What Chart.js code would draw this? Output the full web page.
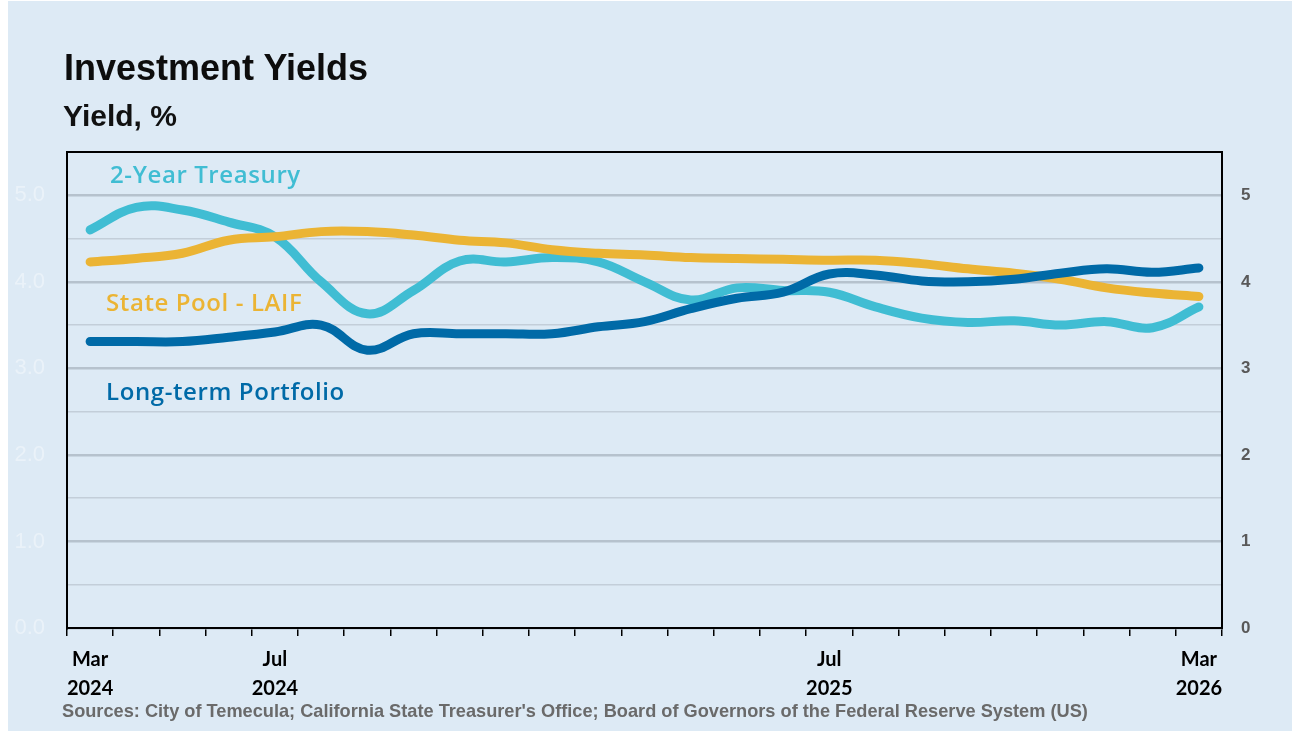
<!DOCTYPE html>
<html>
<head>
<meta charset="utf-8">
<title>Investment Yields</title>
<script src="https://cdn.jsdelivr.net/npm/chart.js@4.4.1/dist/chart.umd.min.js"></script>
<style>
    html, body { margin: 0; padding: 0; background: #ffffff; }
    body { width: 1293px; height: 732px; position: relative; overflow: hidden; }
    #panel { position: absolute; left: 8px; top: 1px; width: 1284px; height: 730px; background: #ddeaf5; }
    #chart { position: absolute; left: 0; top: 0; }
    .txt { position: absolute; white-space: nowrap; font-family: "Liberation Sans", Arial, sans-serif; font-weight: bold; }
    #title { left: 64px; top: 50px; font-size: 36px; line-height: 36px; color: #0d0d0d; }
    #subtitle { left: 63px; top: 101px; font-size: 30px; line-height: 30px; color: #111; }
    .series { font-family: "Open Sans", sans-serif; font-weight: 600; font-size: 24px; line-height: 24px; letter-spacing: 0.6px; }
    #lbl-treasury { left: 110px; top: 162px; color: #40bdd3; }
    #lbl-laif { left: 106px; top: 290px; color: #ebb434; }
    #lbl-portfolio { left: 106px; top: 379px; color: #006aa7; }
    #source { left: 62px; top: 702px; font-size: 18.2px; line-height: 18px; color: #6a6a6a; }
</style>
</head>
<body>
<div id="panel"></div>
<canvas id="chart" width="1293" height="732"></canvas>
<div class="txt" id="title">Investment Yields</div>
<div class="txt" id="subtitle">Yield, %</div>
<div class="txt series" id="lbl-treasury">2-Year Treasury</div>
<div class="txt series" id="lbl-laif">State Pool - LAIF</div>
<div class="txt series" id="lbl-portfolio">Long-term Portfolio</div>
<div class="txt" id="source">Sources: City of Temecula; California State Treasurer's Office; Board of Governors of the Federal Reserve System (US)</div>
<script>
    'use strict';

    // monthly observations, Mar 2024 .. Mar 2026
    var months = ['Mar 2024', 'Apr 2024', 'May 2024', 'Jun 2024', 'Jul 2024', 'Aug 2024', 'Sep 2024',
        'Oct 2024', 'Nov 2024', 'Dec 2024', 'Jan 2025', 'Feb 2025', 'Mar 2025', 'Apr 2025', 'May 2025',
        'Jun 2025', 'Jul 2025', 'Aug 2025', 'Sep 2025', 'Oct 2025', 'Nov 2025', 'Dec 2025', 'Jan 2026',
        'Feb 2026', 'Mar 2026'];
    var labeledMonths = ['Mar 2024', 'Jul 2024', 'Jul 2025', 'Mar 2026'];

    var treasury2y = [4.60, 4.86, 4.83, 4.69, 4.52, 4.00, 3.63, 3.90, 4.24, 4.23, 4.28, 4.23, 4.00,
        3.79, 3.93, 3.90, 3.88, 3.71, 3.58, 3.53, 3.55, 3.50, 3.54, 3.47, 3.71];
    var laif = [4.23, 4.27, 4.33, 4.48, 4.52, 4.58, 4.58, 4.54, 4.48, 4.45, 4.37, 4.33, 4.31,
        4.28, 4.27, 4.26, 4.25, 4.25, 4.21, 4.15, 4.10, 4.03, 3.93, 3.87, 3.83];
    var portfolio = [3.31, 3.31, 3.31, 3.36, 3.42, 3.50, 3.21, 3.40, 3.40, 3.40, 3.40, 3.48, 3.54,
        3.69, 3.81, 3.88, 4.09, 4.08, 4.01, 4.00, 4.03, 4.10, 4.15, 4.11, 4.16];

    var yMin = 0;
    var yMax = 5.5;
    var yStep = 0.5;

    var COLORS = {
        treasury: '#40bdd3',
        laif: '#ebb434',
        portfolio: '#006aa7'
    };

    function lineSet(label, data, color) {
        return {
            label: label,
            data: data,
            borderColor: color,
            backgroundColor: color,
            borderWidth: 9,
            borderCapStyle: 'round',
            borderJoinStyle: 'round',
            pointRadius: 0,
            tension: 0.4,
            fill: false
        };
    }

    // top edge of the plot box (the axes draw the other three sides)
    var framePlugin = {
        id: 'frame',
        afterDraw: function (chart) {
            var a = chart.chartArea;
            var ctx = chart.ctx;
            ctx.save();
            ctx.strokeStyle = '#000';
            ctx.lineWidth = 2;
            ctx.beginPath();
            ctx.moveTo(a.left - 1, a.top);
            ctx.lineTo(a.right + 1, a.top);
            ctx.stroke();
            ctx.restore();
        }
    };

    var config = {
        type: 'line',
        data: {
            labels: months,
            datasets: [
                lineSet('Long-term Portfolio', portfolio, COLORS.portfolio),
                lineSet('State Pool - LAIF', laif, COLORS.laif),
                lineSet('2-Year Treasury', treasury2y, COLORS.treasury)
            ]
        },
        options: {
            responsive: false,
            animation: false,
            events: [],
            layout: { padding: { top: 152, left: 0, right: 0, bottom: 0 } },
            plugins: {
                legend: { display: false },
                tooltip: { enabled: false },
                title: { display: false }
            },
            scales: {
                x: {
                    type: 'category',
                    offset: true,
                    afterFit: function (scale) { scale.height = 104; },
                    grid: {
                        offset: true,
                        drawOnChartArea: false,
                        drawTicks: true,
                        tickLength: 8,
                        color: '#000',
                        lineWidth: 1.5
                    },
                    border: { display: true, color: '#000', width: 2 },
                    ticks: {
                        autoSkip: false,
                        maxRotation: 0,
                        padding: 9,
                        color: '#000',
                        font: { family: 'Lato, "Liberation Sans", sans-serif', weight: 'bold', size: 20, lineHeight: 1.45 },
                        callback: function (value, index) {
                            var lab = months[index];
                            if (labeledMonths.indexOf(lab) < 0) return '';
                            return lab.split(' ');
                        }
                    }
                },
                y: {
                    position: 'left',
                    min: yMin,
                    max: yMax,
                    afterFit: function (scale) { scale.width = 67; },
                    grid: {
                        drawTicks: false,
                        color: function (c) {
                            var v = c.tick.value;
                            if (v >= yMax) return 'rgba(0,0,0,0)';
                            return Number.isInteger(v) ? '#b6c2cd' : '#c3ced9';
                        },
                        lineWidth: function (c) {
                            return Number.isInteger(c.tick.value) ? 2.5 : 1.5;
                        }
                    },
                    border: { display: true, color: '#000', width: 2 },
                    ticks: {
                        stepSize: yStep,
                        padding: 22,
                        color: 'rgba(255,255,255,0.4)',
                        font: { family: '"Liberation Sans", Arial, sans-serif', size: 22 },
                        callback: function (v) {
                            return Number.isInteger(v) && v <= 5 ? v.toFixed(1) : '';
                        }
                    }
                },
                y2: {
                    position: 'right',
                    min: yMin,
                    max: yMax,
                    afterFit: function (scale) { scale.width = 71; },
                    grid: { drawOnChartArea: false, drawTicks: false },
                    border: { display: true, color: '#000', width: 2 },
                    ticks: {
                        stepSize: yStep,
                        padding: 19,
                        color: '#595959',
                        font: { family: '"Liberation Sans", Arial, sans-serif', weight: 'bold', size: 17 },
                        callback: function (v) {
                            return Number.isInteger(v) && v <= 5 ? String(v) : '';
                        }
                    }
                }
            }
        },
        plugins: [framePlugin]
    };

    var ctx = document.getElementById('chart').getContext('2d');
    new Chart(ctx, config);
</script>
</body>
</html>
